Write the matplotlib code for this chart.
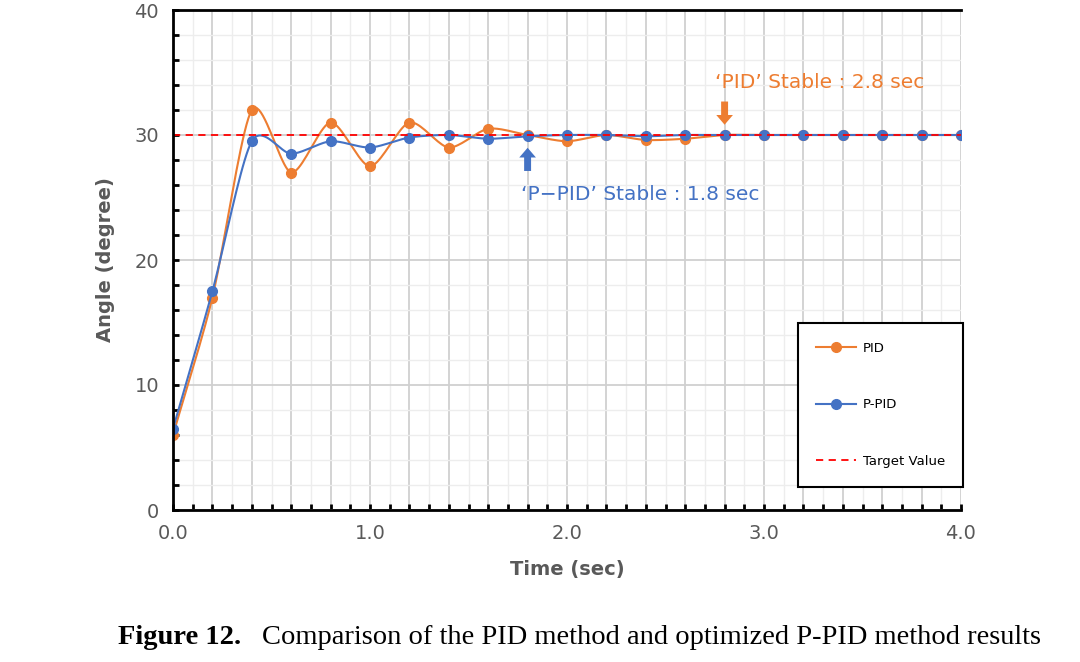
import numpy as np
import matplotlib
matplotlib.use("Agg")
import matplotlib.pyplot as plt
from matplotlib.lines import Line2D

time = [0.0,0.2,0.4,0.6,0.8,1.0,1.2,1.4,1.6,1.8,2.0,2.2,2.4,2.6,2.8,3.0,3.2,3.4,3.6,3.8,4.0]
pid = [6,17,32,27,31,27.5,31,29,30.5,30,29.5,30,29.6,29.7,30,30,30,30,30,30,30]
ppid = [6.5,17.5,29.5,28.5,29.5,29,29.8,30,29.7,29.9,30,30,29.9,30,30,30,30,30,30,30,30]
target = 30
xticks = [0.0,1.0,2.0,3.0,4.0]
yticks = [0,10,20,30,40]

ORANGE = '#ED7D31'; BLUE = '#4472C4'; GREY = '#595959'

def smooth(x, y, n=20):
    x = np.asarray(x, float); y = np.asarray(y, float)
    P = np.column_stack([x, y])
    P = np.vstack([P[0] - (P[1]-P[0]), P, P[-1] + (P[-1]-P[-2])])
    out = []
    for i in range(1, len(P)-2):
        p0, p1, p2, p3 = P[i-1], P[i], P[i+1], P[i+2]
        t = np.linspace(0, 1, n, endpoint=False)[:, None]
        m1 = (p2 - p0) / 2 * 0.8; m2 = (p3 - p1) / 2 * 0.8
        h00 = 2*t**3-3*t**2+1; h10 = t**3-2*t**2+t; h01 = -2*t**3+3*t**2; h11 = t**3-t**2
        out.append(h00*p1 + h10*m1 + h01*p2 + h11*m2)
    out.append(P[-2][None, :])
    out = np.vstack(out)
    return out[:, 0], out[:, 1]

fig = plt.figure(figsize=(10.8, 6.62), dpi=100)
ax = fig.add_axes([173/1080, 1-510/662, (961-173)/1080, 500/662])
ax.set_xlim(0, 4); ax.set_ylim(0, 40)
ax.set_xticks(np.arange(0, 4.01, 0.2), minor=False)
ax.set_xticks(np.arange(0, 4.01, 0.1), minor=True)
ax.set_yticks(np.arange(0, 40.1, 2), minor=True)
ax.set_yticks(yticks)
ax.set_xticklabels([f'{v:.1f}' if abs(v - round(v)) < 1e-6 else '' for v in np.arange(0, 4.01, 0.2)])
ax.grid(which='major', color='#D0D0D0', lw=1.3)
ax.grid(which='minor', color='#EDEDED', lw=1)
ax.set_axisbelow(True)
ax.spines['right'].set_visible(False)
for s in ['left', 'bottom', 'top']:
    ax.spines[s].set_linewidth(2); ax.spines[s].set_color('black')
ax.tick_params(which='both', direction='in', length=4, width=2, colors='black', labelcolor=GREY, labelsize=14, pad=10)

sx, sy = smooth(time, pid)
ax.plot(sx, sy, color=ORANGE, lw=1.5)
ax.plot(time, pid, 'o', color=ORANGE, ms=7)
sx, sy = smooth(time, ppid)
ax.plot(sx, sy, color=BLUE, lw=1.5)
ax.plot(time, ppid, 'o', color=BLUE, ms=7)
ax.axhline(target, color='red', ls=(0, (4, 3)), lw=1.3)

ax.set_xlabel('Time (sec)', fontsize=14, fontweight='bold', color=GREY, labelpad=12)
ax.set_ylabel('Angle (degree)', fontsize=14, fontweight='bold', color=GREY, labelpad=14)

arrow = 'simple,head_width=1.2,head_length=0.7,tail_width=0.5'
ax.annotate('', xy=(2.8, 30.6), xytext=(2.8, 32.9),
            arrowprops=dict(arrowstyle=arrow, color=ORANGE, lw=0))
ax.text(2.75, 34.2, '‘PID’ Stable : 2.8 sec', color=ORANGE, fontsize=14.5, ha='left', va='center')
ax.annotate('', xy=(1.8, 29.2), xytext=(1.8, 26.9),
            arrowprops=dict(arrowstyle=arrow, color=BLUE, lw=0))
ax.text(1.765, 25.2, '‘P−PID’ Stable : 1.8 sec', color=BLUE, fontsize=14.5, ha='left', va='center')

handles = [Line2D([], [], color=ORANGE, marker='o', ms=7, lw=1.5),
           Line2D([], [], color=BLUE, marker='o', ms=7, lw=1.5),
           Line2D([], [], color='red', ls=(0, (4, 3)), lw=1.3)]
leg = ax.legend(handles, ['PID', 'P-PID', 'Target Value'], loc='center left',
                bbox_to_anchor=((798-173)/788, (510-483)/500, 152/788, 156/500),
                fontsize=9.5, labelspacing=3.3, borderpad=1.4, handlelength=3, handletextpad=0.5,
                fancybox=False, edgecolor='black', framealpha=1, borderaxespad=0)
leg.get_frame().set_linewidth(1.5)

fig.text(118/1080, 1-637/662, 'Figure 12.', fontsize=20.5, fontweight='bold', family='Liberation Serif', va='center')
fig.text(262/1080, 1-637/662, 'Comparison of the PID method and optimized P-PID method results',
         fontsize=20.5, family='Liberation Serif', va='center')
fig.savefig('out.png', dpi=100)
